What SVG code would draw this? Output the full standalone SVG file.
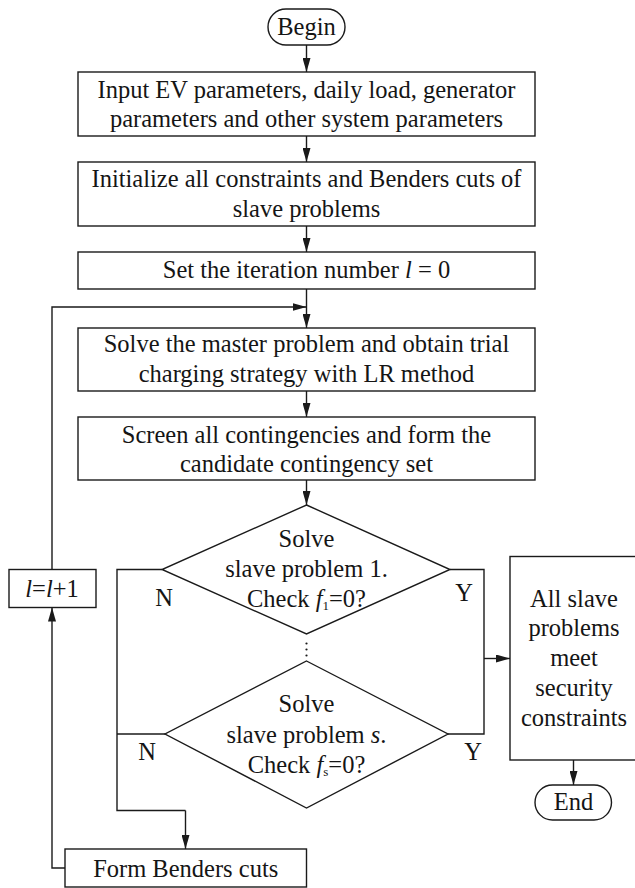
<svg xmlns="http://www.w3.org/2000/svg" width="635" height="888" viewBox="0 0 635 888">
  <style>
    .shape { fill: #ffffff; stroke: #1a1a1a; stroke-width: 1.4; }
    .line { fill: none; stroke: #1a1a1a; stroke-width: 1.4; }
    .arrow { fill: none; stroke: #1a1a1a; stroke-width: 1.4; marker-end: url(#head); }
    text { font-family: "Liberation Serif", "Times New Roman", serif; font-size: 24.5px; fill: #151515; text-anchor: middle; }
    .it { font-style: italic; }
  </style>
  <defs>
    <marker id="head" markerUnits="userSpaceOnUse" markerWidth="14" markerHeight="8" refX="14" refY="4" orient="auto">
      <path d="M0,0 L14,4 L0,8 Z" fill="#1a1a1a"/>
    </marker>
  </defs>

  <!-- connectors -->
  <g id="connectors">
    <path class="arrow" d="M306.5,45 V72"/>
    <path class="arrow" d="M306.5,136 V162"/>
    <path class="arrow" d="M306.5,226 V252"/>
    <path class="arrow" d="M306.5,289 V328"/>
    <path class="arrow" d="M52,570 V307 H306.5"/>
    <path class="arrow" d="M306.5,391 V417"/>
    <path class="arrow" d="M306.5,480 V505"/>
    <!-- N branches -->
    <path class="line" d="M162,569.5 H117 V810.5 H185.5"/>
    <path class="arrow" d="M185.5,810.5 V849"/>
    <path class="line" d="M165,734 H117"/>
    <!-- Y branches -->
    <path class="line" d="M450,569.5 H484 V734 H448"/>
    <path class="arrow" d="M484,658.5 H510"/>
    <path class="arrow" d="M573.5,760 V785"/>
    <!-- feedback -->
    <path class="arrow" d="M65,868 H52 V607.5"/>
    <!-- ellipsis between slave problems -->
    <circle cx="306.5" cy="643.5" r="1.1" fill="#1a1a1a"/>
    <circle cx="306.5" cy="649.5" r="1.1" fill="#1a1a1a"/>
    <circle cx="306.5" cy="655.5" r="1.1" fill="#1a1a1a"/>
  </g>

  <g id="begin">
    <rect class="shape" x="268" y="9" width="77" height="36" rx="18"/>
    <text x="306.5" y="35">Begin</text>
  </g>

  <g id="input">
    <rect class="shape" x="78" y="72" width="457" height="64"/>
    <text x="306.5" y="97.5">Input EV parameters, daily load, generator</text>
    <text x="306.5" y="126.5">parameters and other system parameters</text>
  </g>

  <g id="initialize">
    <rect class="shape" x="78" y="162" width="457" height="64"/>
    <text x="306.5" y="187">Initialize all constraints and Benders cuts of</text>
    <text x="306.5" y="216.5">slave problems</text>
  </g>

  <g id="set-iteration">
    <rect class="shape" x="78" y="252" width="457" height="37"/>
    <text x="306.5" y="278">Set the iteration number <tspan class="it">l</tspan> = 0</text>
  </g>

  <g id="master">
    <rect class="shape" x="78" y="328" width="457" height="63"/>
    <text x="306.5" y="352">Solve the master problem and obtain trial</text>
    <text x="306.5" y="381.5">charging strategy with LR method</text>
  </g>

  <g id="screen">
    <rect class="shape" x="78" y="417" width="457" height="63"/>
    <text x="306.5" y="442.5">Screen all contingencies and form the</text>
    <text x="306.5" y="472">candidate contingency set</text>
  </g>

  <g id="slave-1">
    <polygon class="shape" points="306.5,505 450,569.5 306.5,634 162,569.5"/>
    <text x="306.5" y="546.5">Solve</text>
    <text x="306.5" y="576.5">slave problem 1.</text>
    <text x="306.5" y="606.5">Check <tspan class="it">f</tspan><tspan font-size="13" dy="3">1</tspan><tspan dy="-3">=0?</tspan></text>
    <text x="164" y="606">N</text>
    <text x="464" y="601">Y</text>
  </g>

  <g id="slave-s">
    <polygon class="shape" points="306.5,661 448,734 306.5,808 165,734"/>
    <text x="306.5" y="711.5">Solve</text>
    <text x="306.5" y="743">slave problem <tspan class="it">s</tspan>.</text>
    <text x="306.5" y="773">Check <tspan class="it">f</tspan><tspan font-size="13" dy="3">s</tspan><tspan dy="-3">=0?</tspan></text>
    <text x="147" y="760">N</text>
    <text x="473" y="760">Y</text>
  </g>

  <g id="all-met">
    <rect class="shape" x="510" y="556.5" width="140" height="203.5"/>
    <text x="574" y="606.5">All slave</text>
    <text x="574" y="636">problems</text>
    <text x="574" y="666">meet</text>
    <text x="574" y="695.5">security</text>
    <text x="574" y="726">constraints</text>
  </g>

  <g id="end">
    <rect class="shape" x="535" y="785" width="76.5" height="35" rx="17.5"/>
    <text x="573.5" y="810">End</text>
  </g>

  <g id="increment">
    <rect class="shape" x="9" y="569.5" width="87" height="38"/>
    <text x="52" y="596.5"><tspan class="it">l</tspan>=<tspan class="it">l</tspan>+1</text>
  </g>

  <g id="benders-cuts">
    <rect class="shape" x="65" y="849" width="241.5" height="38"/>
    <text x="185.7" y="876.5">Form Benders cuts</text>
  </g>
</svg>
